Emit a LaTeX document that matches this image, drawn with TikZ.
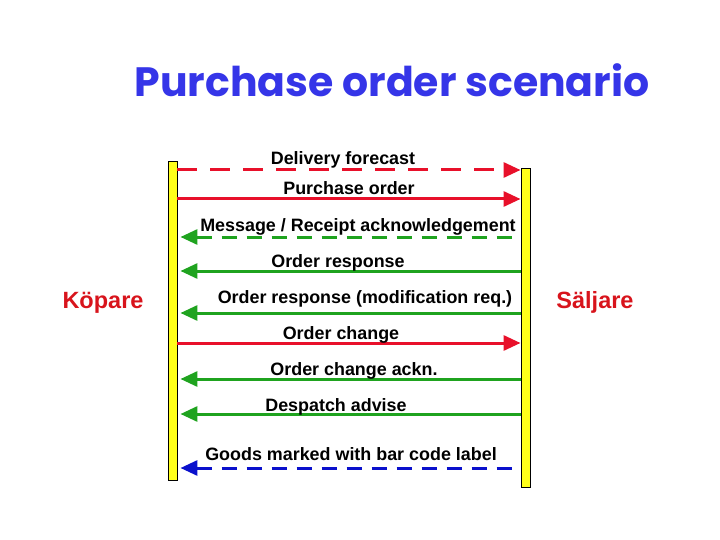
\documentclass[tikz,border=0pt]{standalone}
\usepackage{fontspec}
\setmainfont{Liberation Sans}
\newfontfamily\titlefont{Poppins}
\usepackage{tikz}
\usetikzlibrary{arrows.meta, positioning}
\definecolor{msgred}{HTML}{E8102A}
\definecolor{msggreen}{HTML}{1FA31F}
\definecolor{msgblue}{HTML}{0A10CC}
\definecolor{titleblue}{HTML}{3535E8}
\definecolor{partyred}{HTML}{D8141C}
\definecolor{barfill}{HTML}{FFFF1A}

\tikzset{
  lifeline/.style={draw=black, line width=0.9pt, fill=barfill, minimum width=9pt, minimum height=319pt, inner sep=0pt},
  party/.style={font=\fontsize{23.5}{26}\selectfont\bfseries, text=partyred, anchor=base},
  msglabel/.style={font=\fontsize{17.9}{20}\selectfont\bfseries, anchor=base, inner sep=0pt},
  msg/.style={line width=3pt},
  toseller/.style={msg, draw=msgred, -{Triangle[length=17pt,width=15pt]}},
  tosellerdash/.style={toseller, dash pattern=on 20pt off 13pt},
  tobuyer/.style={msg, draw=msggreen, {Triangle[length=17pt,width=15pt]}-, shorten <=3pt},
  tobuyerdash/.style={tobuyer, dash pattern=on 15pt off 10pt},
  goodsdash/.style={tobuyer, draw=msgblue, dash pattern=on 15pt off 10pt}
}

\begin{document}
\begin{tikzpicture}[x=1pt, y=-1pt]
    \useasboundingbox (0,0) rectangle (720,540);

    % title
    \node[font=\titlefont\fontsize{41}{48}\selectfont\bfseries, text=titleblue, anchor=base] (title) at (392,97) {Purchase order scenario};

    % the two parties
    \node[lifeline] (kopbar) at (172.5,320.5) {};
    \node[lifeline] (saljbar) at (525.5,327.5) {};
    \node[party] (kop) at (103,308) {Köpare};
    \node[party] (salj) at (595,308) {Säljare};

    % messages: line y / text baseline / text x / style / text
    \foreach \y/\by/\tx/\st/\txt [count=\i] in {
        170/165/343/tosellerdash/{Delivery forecast},
        199/195/349/toseller/{Purchase order},
        237/231/358/tobuyerdash/{Message / Receipt acknowledgement},
        271/267/338/tobuyer/{Order response},
        313/303/365/tobuyer/{Order response (modification req.)},
        343/339/341/toseller/{Order change},
        379/375/354/tobuyer/{Order change ackn.},
        414/411/336/tobuyer/{Despatch advise},
        468/460/351/goodsdash/{Goods marked with bar code label}} {
        \coordinate (k\i) at (kopbar.east |- 0,\y);
        \coordinate (s\i) at (saljbar.west |- 0,\y);
        \draw[\st] (k\i) -- (s\i);
        \node[msglabel] (m\i) at (\tx,\by) {\txt};
    }
\end{tikzpicture}
\end{document}
